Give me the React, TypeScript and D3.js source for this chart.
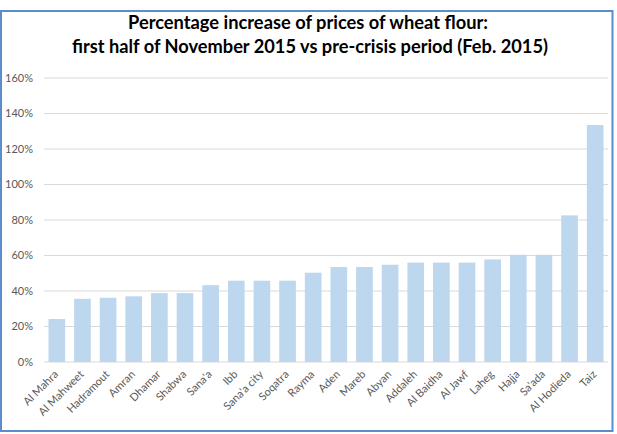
import React from 'react';
import * as d3 from 'd3';

const categories = [
  'Al Mahra', 'Al Mahweet', 'Hadramout', 'Amran', 'Dhamar', 'Shabwa', "Sana'a", 'Ibb',
  "Sana'a city", 'Soqatra', 'Rayma', 'Aden', 'Mareb', 'Abyan', 'Addaleh', 'Al Baidha',
  'Al Jawf', 'Laheg', 'Hajja', "Sa'ada", 'Al Hodieda', 'Taiz'
];
const increase = [
  0.242, 0.356, 0.362, 0.37, 0.388, 0.388, 0.433, 0.458,
  0.458, 0.458, 0.503, 0.535, 0.535, 0.548, 0.56, 0.56,
  0.56, 0.578, 0.604, 0.604, 0.826, 1.335
];
const yTicks = [0, 0.2, 0.4, 0.6, 0.8, 1.0, 1.2, 1.4, 1.6];
const titleLines = [
  'Percentage increase of prices of wheat flour:',
  'first half of November 2015 vs pre-crisis period (Feb. 2015)'
];

const W = 617;
const H = 434;
const font = 'Lato, "Open Sans", sans-serif';

const App: React.FC = () => {
  const x = d3.scaleBand<string>()
    .domain(categories)
    .range([44, 608])
    .paddingInner(0.35)
    .paddingOuter(0.175);

  const y = d3.scaleLinear()
    .domain([0, 1.6])
    .range([362, 78]);

  const pct = d3.format('.0%');

  return (
    <svg width={W} height={H} style={{ position: 'absolute', left: 0, top: 0, background: '#fff' }}>
      <rect x={0} y={0} width={W} height={H} fill="#fff" />
      {/* frame */}
      <rect x={1} y={11} width={611.5} height={420} fill="none" stroke="#5b8ccc" strokeWidth={2} />

      {/* title */}
      <text x={308} y={29} textAnchor="middle" fontFamily={font} fontWeight={700} fontSize={19}
        fill="#000" textLength={360} lengthAdjust="spacingAndGlyphs">{titleLines[0]}</text>
      <text x={310} y={53} textAnchor="middle" fontFamily={font} fontWeight={700} fontSize={19}
        fill="#000" textLength={476} lengthAdjust="spacingAndGlyphs">{titleLines[1]}</text>

      {/* gridlines + y labels */}
      {yTicks.map((t) => (
        <g key={t}>
          <line x1={44} x2={608} y1={y(t)} y2={y(t)} stroke="#d9d9d9" strokeWidth={1} />
          <text x={33} y={y(t)} dy="0.35em" textAnchor="end" fontFamily={font} fontSize={11}
            fill="#595959">{pct(t)}</text>
        </g>
      ))}

      {/* bars */}
      {categories.map((c, i) => (
        <rect key={c} x={x(c)} y={y(increase[i])} width={x.bandwidth()}
          height={y(0) - y(increase[i])} fill="#bdd7ee" />
      ))}

      {/* x labels */}
      {categories.map((c) => {
        const cx = (x(c) ?? 0) + x.bandwidth() / 2 + 2;
        return (
          <text key={c} transform={`translate(${cx},${375}) rotate(-45)`} textAnchor="end"
            fontFamily={font} fontSize={11} fill="#595959">{c}</text>
        );
      })}
    </svg>
  );
};

export default App;
